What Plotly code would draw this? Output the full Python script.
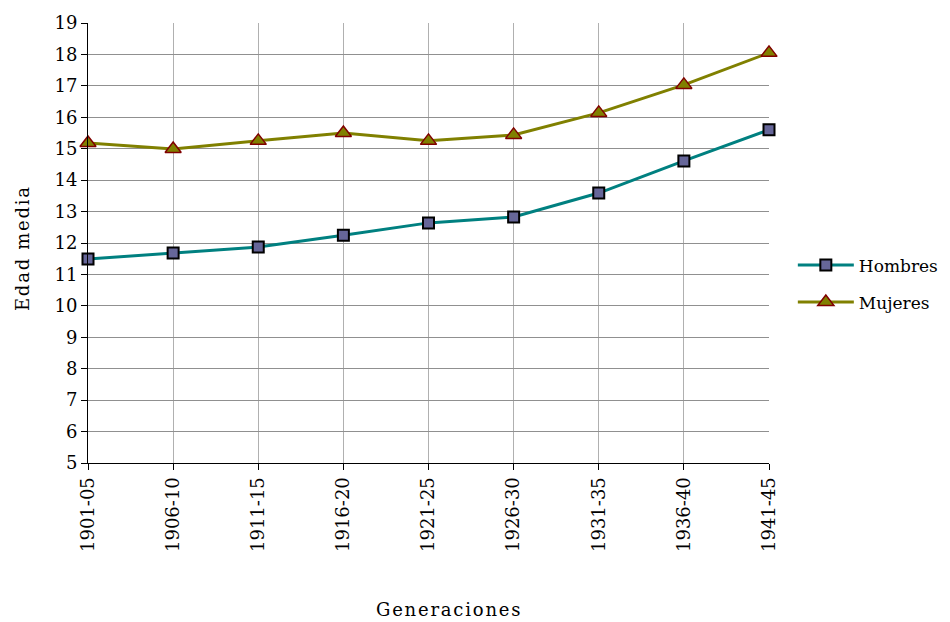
import plotly.graph_objects as go

#%% Data

generaciones = ["1901-05", "1906-10", "1911-15", "1916-20", "1921-25",
                "1926-30", "1931-35", "1936-40", "1941-45"]
hombres = [11.49, 11.68, 11.87, 12.25, 12.64, 12.83, 13.59, 14.61, 15.60]
mujeres = [15.18, 14.99, 15.25, 15.50, 15.25, 15.44, 16.14, 17.03, 18.05]

FONT = "DejaVu Serif"


def spaced(text: str) -> str:
    # mimic the letter-spacing of the axis titles
    return "\u200a".join(text).replace("\u200a \u200a", "\u2002")


#%% Figure

fig = go.Figure()

fig.add_trace(go.Scatter(
    x=generaciones, y=hombres, name="Hombres", mode="lines+markers",
    legendgroup="h",
    line=dict(color="#008080", width=3),
    marker=dict(symbol="square", size=11, color="#666699",
                line=dict(color="#000000", width=2)),
    cliponaxis=False,
))
fig.add_trace(go.Scatter(
    x=generaciones, y=mujeres, name="Mujeres", mode="lines+markers",
    legendgroup="m",
    line=dict(color="#808000", width=3),
    marker=dict(symbol="triangle-up", size=14, color="#808000",
                line=dict(color="#800000", width=1.5)),
    cliponaxis=False,
))

# page body has an 8px margin, so the figure is drawn 8px smaller
fig.update_layout(
    width=942, height=614,
    margin=dict(l=80, r=181, t=15, b=159, autoexpand=False),
    paper_bgcolor="white", plot_bgcolor="white",
    font=dict(family=FONT, size=18, color="#000000"),
    legend=dict(x=1.035, y=0.407, xanchor="left", yanchor="middle",
                font=dict(size=17), tracegroupgap=12, itemwidth=56),
    showlegend=True,
)

fig.update_xaxes(
    type="category", range=[0, 8], tickangle=-90, automargin=False,
    showline=True, linecolor="#000000", linewidth=1,
    showgrid=True, gridcolor="#b0b0b0", gridwidth=1,
    ticks="outside", ticklen=6, tickcolor="#000000",
)
fig.update_yaxes(
    range=[5, 19], dtick=1, automargin=False,
    showline=True, linecolor="#000000", linewidth=1,
    showgrid=True, gridcolor="#909090", gridwidth=1,
    ticks="outside", ticklen=6, tickcolor="#000000",
    zeroline=False,
)

fig.add_annotation(text=spaced("Generaciones"), xref="paper", yref="paper",
                   x=0.530, y=-0.334, showarrow=False,
                   xanchor="center", yanchor="middle", font=dict(size=18))
fig.add_annotation(text=spaced("Edad media"), xref="paper", yref="paper",
                   x=-0.097, y=0.486, showarrow=False, textangle=-90,
                   xanchor="center", yanchor="middle", font=dict(size=18))

fig.write_html("out.html")
